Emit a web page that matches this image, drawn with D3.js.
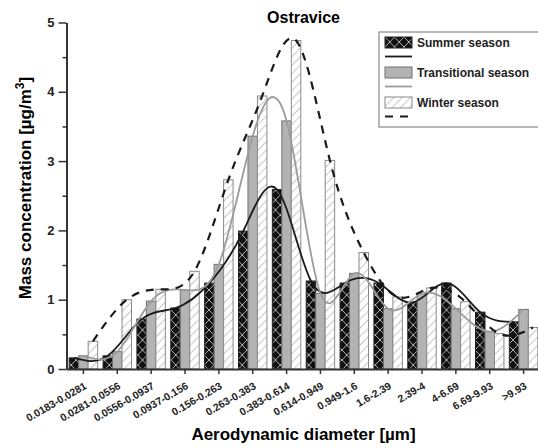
<!DOCTYPE html>
<html>
<head>
<meta charset="utf-8">
<script src="https://cdn.jsdelivr.net/npm/d3@7"></script>
<style>
  body { margin: 0; background: #fff; }
  svg { display: block; font-family: "Liberation Sans", Arial, sans-serif; }
</style>
</head>
<body>
<div id="chart"></div>
<script>
// size classes and mass concentrations per season
const categories = ["0.0183-0.0281", "0.0281-0.0556", "0.0556-0.0937", "0.0937-0.156", "0.156-0.263",
  "0.263-0.383", "0.383-0.614", "0.614-0.949", "0.949-1.6", "1.6-2.39", "2.39-4", "4-6.69", "6.69-9.93", ">9.93"];
const summer = [0.16, 0.19, 0.72, 0.88, 1.24, 1.99, 2.59, 1.27, 1.24, 1.24, 0.96, 1.24, 0.82, 0.68];
const transitional = [0.19, 0.25, 0.98, 1.14, 1.51, 3.36, 3.58, 1.09, 1.38, 0.87, 1.09, 0.87, 0.54, 0.86];
const winter = [0.40, 1.00, 1.15, 1.41, 2.73, 3.94, 4.74, 3.01, 1.68, 1.04, 1.17, 0.97, 0.51, 0.60];
const seriesNames = ["Summer season", "Transitional season", "Winter season"];
const yTicks = [0, 1, 2, 3, 4, 5];

const W = 538, H = 448;
const plotLeft = 66.5, plotRight = 540.5, plotTop = 22.5, plotBottom = 369;

const svg = d3.select("#chart").append("svg")
  .attr("width", W).attr("height", H);

// patterns
const defs = svg.append("defs");
const cross = defs.append("pattern").attr("id", "cross")
  .attr("patternUnits", "userSpaceOnUse").attr("width", 9.5).attr("height", 10);
cross.append("rect").attr("width", 9.5).attr("height", 10).attr("fill", "#111");
cross.append("path").attr("d", "M0,0L9.5,10M9.5,0L0,10")
  .attr("stroke", "#d8d8d8").attr("stroke-width", 0.8);
const hatch = defs.append("pattern").attr("id", "hatch")
  .attr("patternUnits", "userSpaceOnUse").attr("width", 6).attr("height", 6)
  .attr("patternTransform", "rotate(45)");
hatch.append("rect").attr("width", 6).attr("height", 6).attr("fill", "#fff");
hatch.append("line").attr("x1", 0).attr("y1", 0).attr("x2", 0).attr("y2", 6)
  .attr("stroke", "#9a9a9a").attr("stroke-width", 1.1);

const styles = [
  { fill: "url(#cross)", stroke: "#222", line: "#1a1a1a", dash: null },
  { fill: "#b3b3b3", stroke: "#707070", line: "#9c9c9c", dash: null },
  { fill: "url(#hatch)", stroke: "#8a8a8a", line: "#1a1a1a", dash: "8,7" }
];

const x = d3.scaleBand().domain(categories).range([plotLeft, plotRight])
  .paddingInner(0.16).paddingOuter(0.08);
const xs = d3.scaleBand().domain(d3.range(3)).range([0, x.bandwidth()]);
const y = d3.scaleLinear().domain([0, 5]).range([plotBottom, plotTop]);

const series = [summer, transitional, winter];

// bars
series.forEach((vals, s) => {
  svg.append("g").selectAll("rect")
    .data(vals)
    .enter()
    .append("rect")
    .attr("x", (d, i) => x(categories[i]) + xs(s))
    .attr("y", d => y(d))
    .attr("width", xs.bandwidth())
    .attr("height", d => y(0) - y(d))
    .attr("fill", styles[s].fill)
    .attr("stroke", styles[s].stroke)
    .attr("stroke-width", 1);
});

// spline curves through bar tops
series.forEach((vals, s) => {
  const line = d3.line()
    .x((d, i) => x(categories[i]) + xs(s) + xs.bandwidth() / 2)
    .y(d => y(d))
    .curve(d3.curveNatural);
  svg.append("path")
    .datum(vals)
    .attr("d", line)
    .attr("fill", "none")
    .attr("stroke", styles[s].line)
    .attr("stroke-width", s === 2 ? 2.2 : 1.8)
    .attr("stroke-dasharray", styles[s].dash);
});

// y axis
const yAxis = svg.append("g")
  .attr("transform", `translate(${plotLeft},0)`)
  .call(d3.axisLeft(y).tickValues(yTicks).tickFormat(d3.format("d")).tickSize(8).tickSizeOuter(0));
svg.append("g")
  .attr("transform", `translate(${plotLeft},0)`)
  .call(d3.axisLeft(y).tickValues(yTicks.slice(0, -1).map(d => d + 0.5)).tickFormat("").tickSize(4).tickSizeOuter(0))
  .call(g => g.select(".domain").remove());
yAxis.selectAll("text").attr("font-size", 13).attr("font-weight", "bold").attr("fill", "#222").attr("dx", -1);

// x axis
const xAxis = svg.append("g")
  .attr("transform", `translate(0,${plotBottom})`)
  .call(d3.axisBottom(x).tickSize(5).tickSizeOuter(0));
xAxis.selectAll("text")
  .attr("font-size", 10.5).attr("font-weight", "bold").attr("fill", "#222")
  .attr("text-anchor", "end")
  .attr("y", 0).attr("dy", 0)
  .attr("transform", "translate(4,19) rotate(-30)");

svg.selectAll(".domain").attr("stroke", "#333").attr("stroke-width", 2);
svg.selectAll(".tick line").attr("stroke", "#333").attr("stroke-width", 1.5);

// titles
svg.append("text")
  .attr("x", (plotLeft + plotRight) / 2).attr("y", 23)
  .attr("text-anchor", "middle").attr("font-size", 16).attr("font-weight", "bold")
  .text("Ostravice");
svg.append("text")
  .attr("x", (plotLeft + plotRight) / 2).attr("y", 440)
  .attr("text-anchor", "middle").attr("font-size", 17).attr("font-weight", "bold")
  .text("Aerodynamic diameter [µm]");
const yl = svg.append("text")
  .attr("transform", "translate(31,188) rotate(-90)")
  .attr("text-anchor", "middle").attr("font-size", 17).attr("font-weight", "bold");
yl.append("tspan").text("Mass concentration [µg/m");
yl.append("tspan").attr("font-size", 12).attr("dy", -7).text("3");
yl.append("tspan").attr("dy", 7).text("]");

// legend
const lg = svg.append("g").attr("transform", "translate(379,32)");
lg.append("rect").attr("width", 170).attr("height", 95)
  .attr("fill", "#fff").attr("stroke", "#888").attr("stroke-width", 1.2);
seriesNames.forEach((name, s) => {
  const g = lg.append("g").attr("transform", `translate(6,${5 + s * 30})`);
  g.append("rect").attr("width", 27).attr("height", 11)
    .attr("fill", styles[s].fill).attr("stroke", styles[s].stroke).attr("stroke-width", 1);
  g.append("text").attr("x", 32).attr("y", 10)
    .attr("font-size", 12).attr("font-weight", "bold").attr("fill", "#222").text(name);
  g.append("line").attr("x1", 0).attr("x2", 27).attr("y1", 19.5).attr("y2", 19.5)
    .attr("stroke", styles[s].line).attr("stroke-width", s === 2 ? 2.2 : 1.8)
    .attr("stroke-dasharray", styles[s].dash);
});
</script>
</body>
</html>
